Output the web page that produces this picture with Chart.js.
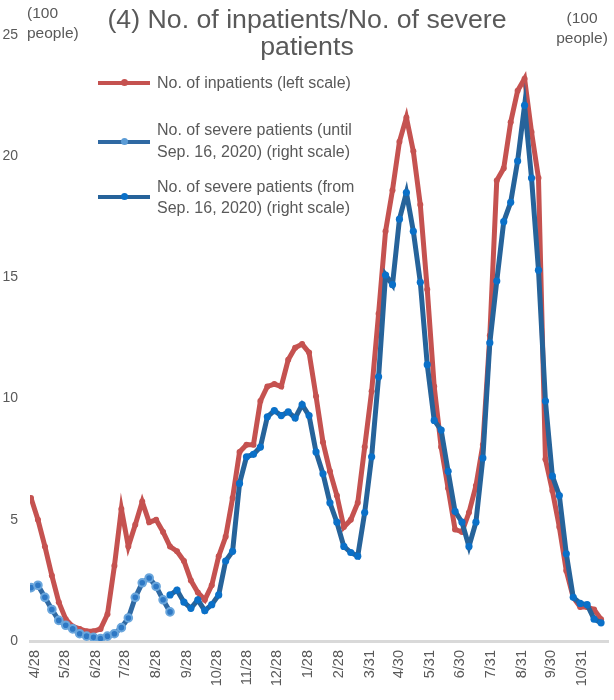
<!DOCTYPE html>
<html>
<head>
<meta charset="utf-8">
<script src="https://cdn.jsdelivr.net/npm/chart.js@4.4.1/dist/chart.umd.min.js"></script>
<style>
  html, body { margin: 0; padding: 0; background: #fff; }
  #wrap { position: relative; width: 614px; height: 700px; overflow: hidden; font-family: "Liberation Sans", Arial, sans-serif; color: #595959; }
  #c { position: absolute; left: 0; top: 0; }
  .t { position: absolute; white-space: nowrap; }
  .title { font-size: 26.7px; left: 0; width: 614px; text-align: center; line-height: 27px; top: 6px; color: #595959; }
  .unit { font-size: 15.5px; line-height: 20px; }
  .leg { font-size: 16px; line-height: 22px; color: #595959; }
  .sw { position: absolute; height: 4px; width: 52px; }
  .dot { position: absolute; width: 7px; height: 7px; border-radius: 50%; }
</style>
</head>
<body>
<div id="wrap">
  <canvas id="c" width="614" height="700"></canvas>
  <div class="t title">(4) No. of inpatients/No. of severe<br>patients</div>
  <div class="t unit" style="left:27px; top:3px; text-align:left;">(100<br>people)</div>
  <div class="t unit" style="left:550px; top:8px; width:64px; text-align:center;">(100<br>people)</div>

  <div class="sw" style="left:98px; top:81px; background:#c55250;"></div>
  <div class="dot" style="left:121px; top:79px; background:#c55250;"></div>
  <div class="t leg" style="left:157px; top:72px;">No. of inpatients (left scale)</div>

  <div class="sw" style="left:98px; top:140px; background:#2f69a3;"></div>
  <div class="dot" style="left:121px; top:138px; background:#5b9bd5;"></div>
  <div class="t leg" style="left:157px; top:119px;">No. of severe patients (until<br>Sep. 16, 2020) (right scale)</div>

  <div class="sw" style="left:98px; top:195px; background:#26639a;"></div>
  <div class="dot" style="left:121px; top:193px; background:#0a70c8;"></div>
  <div class="t leg" style="left:157px; top:176px; line-height:21px;">No. of severe patients (from<br>Sep. 16, 2020) (right scale)</div>
</div>
<script>
// x positions: days after 4/28/2020 (weekly observations)
const weekDays = [];
for (let k = 0; k <= 82; k++) weekDays.push(-4 + 7 * k);

// Month tick positions (days after 4/28/2020) and their labels
const tickDays   = [0, 30, 61, 91, 122, 153, 183, 214, 244, 275, 306, 337, 367, 398, 428, 459, 490, 520, 551];
const tickLabels = ['4/28','5/28','6/28','7/28','8/28','9/28','10/28','11/28','12/28','1/28','2/28','3/31','4/30','5/31','6/30','7/31','8/31','9/30','10/31'];

// No. of inpatients (100 people), left scale — one value per week
const inpatients = [
  5.9, 5.0, 3.9, 2.7, 1.6, 0.9, 0.6, 0.5, 0.4, 0.4,
  0.5, 1.1, 3.1, 5.45, 3.9, 4.8, 5.75, 4.9, 5.0, 4.5,
  3.9, 3.7, 3.3, 2.5, 2.0, 1.7, 2.3, 3.5, 4.3, 5.9,
  7.8, 8.1, 8.1, 9.9, 10.5, 10.6, 10.5, 11.6, 12.1, 12.25,
  11.9, 10.1, 8.2, 7.0, 6.0, 4.7, 5.0, 5.7, 8.0, 10.3,
  13.5, 16.9, 18.6, 20.6, 21.6, 20.2, 18.0, 14.5, 10.5, 8.0,
  6.3, 4.6, 4.5, 5.3, 6.4, 8.1, 12.6, 19.0, 19.5, 21.4,
  22.7, 23.2, 21.0, 19.1, 7.5, 6.2, 4.7, 2.9, 1.8, 1.4,
  1.4, 1.3, 0.9
];

// No. of severe patients until Sep. 16, 2020 (weeks 0..20)
const severeUntil = [
  2.2, 2.3, 1.8, 1.3, 0.85, 0.65, 0.5, 0.3, 0.2, 0.15,
  0.1, 0.2, 0.3, 0.55, 0.95, 1.8, 2.4, 2.6, 2.25, 1.7,
  1.2
];

// No. of severe patients from Sep. 16, 2020 (weeks 20..82)
const severeFrom = [
  1.9, 2.1, 1.6, 1.35, 1.7, 1.25, 1.5, 1.9, 3.3, 3.7,
  6.5, 7.6, 7.7, 8.0, 9.25, 9.5, 9.3, 9.45, 9.2, 9.75,
  9.3, 7.8, 6.9, 5.7, 4.9, 3.9, 3.65, 3.5, 5.3, 7.6,
  10.9, 15.1, 14.7, 17.4, 18.5, 16.9, 14.8, 11.4, 9.1, 8.7,
  7.0, 5.35, 4.9, 3.9, 4.9, 7.55, 12.3, 14.85, 17.3, 18.1,
  19.8, 22.1, 19.1, 15.3, 9.9, 6.8, 6.0, 3.6, 1.8, 1.55,
  1.5, 0.9, 0.75
];
const severeFromStart = 20;

const toPts = (vals, offset) => vals.map((v, i) => ({ x: weekDays[i + offset], y: v }));

new Chart(document.getElementById('c'), {
  type: 'line',
  data: {
    datasets: [
      {
        label: 'No. of severe patients (until Sep. 16, 2020) (right scale)',
        data: toPts(severeUntil, 0),
        yAxisID: 'y2',
        borderColor: '#2f69a3',
        borderWidth: 5,
        pointRadius: 3.8,
        pointBackgroundColor: '#2e78c4',
        pointBorderColor: '#6aa6dc',
        pointBorderWidth: 2,
        tension: 0
      },
      {
        label: 'No. of severe patients (from Sep. 16, 2020) (right scale)',
        data: toPts(severeFrom, severeFromStart),
        yAxisID: 'y2',
        borderColor: '#26639a',
        borderWidth: 5,
        pointRadius: 3.6,
        pointBackgroundColor: '#0a70c8',
        pointBorderColor: '#0a70c8',
        pointBorderWidth: 0,
        tension: 0
      },
      {
        label: 'No. of inpatients (left scale)',
        data: toPts(inpatients, 0),
        yAxisID: 'y',
        borderColor: '#c55250',
        borderWidth: 5,
        pointRadius: 3,
        pointBackgroundColor: '#c55250',
        pointBorderWidth: 0,
        tension: 0,
        order: 1
      }
    ]
  },
  options: {
    responsive: false,
    animation: false,
    layout: { padding: { top: 35, right: 2, left: 0, bottom: 0 } },
    plugins: { legend: { display: false }, title: { display: false }, tooltip: { enabled: false } },
    scales: {
      x: {
        type: 'linear',
        min: -5,
        max: 577,
        afterFit: s => { s.height = 59; },
        afterBuildTicks: s => { s.ticks = tickDays.map(v => ({ value: v })); },
        grid: { display: false, drawTicks: false },
        border: { display: true, color: '#d9d9d9', width: 3 },
        ticks: {
          autoSkip: false,
          minRotation: 90,
          maxRotation: 90,
          padding: 9,
          color: '#595959',
          font: { family: 'Liberation Sans', size: 14.5 },
          callback: v => { const i = tickDays.indexOf(v); return i >= 0 ? tickLabels[i] : ''; }
        }
      },
      y: {
        position: 'left',
        min: 0,
        max: 25,
        afterFit: s => { s.width = 30; },
        grid: { display: false, drawTicks: false },
        border: { display: false },
        ticks: {
          stepSize: 5,
          padding: 12,
          color: '#595959',
          font: { family: 'Liberation Sans', size: 14 }
        }
      },
      y2: {
        position: 'right',
        min: 0,
        max: 25,
        display: false
      }
    }
  }
});
</script>
</body>
</html>
